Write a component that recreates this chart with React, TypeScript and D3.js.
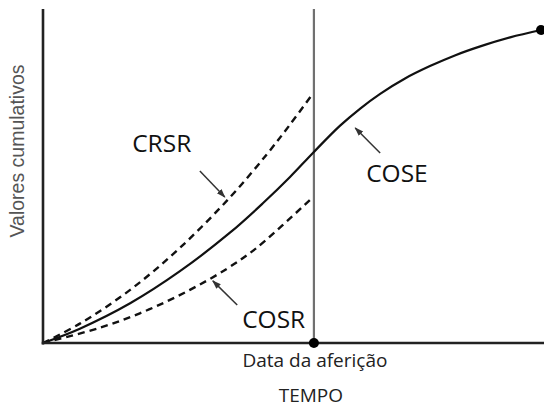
import React from "react";
import * as d3 from "d3";

// Time axis (0..100, arbitrary units) and cumulative values (0..100)
const measurementTime = 54.4;

const timeCOSE = [0, 7.4, 17.5, 27.5, 37.6, 44.2, 49.6, 54.2, 59.6, 63.7, 67.7, 72.7, 77.7, 82.7, 87.8, 93.8, 100];
const valueCOSE = [0, 4.3, 11.9, 21.5, 33.1, 41.9, 49.7, 56.9, 65.0, 70.2, 74.6, 79.2, 82.9, 86.1, 88.8, 91.5, 93.7];

const timeCRSR = [0, 7.4, 17.5, 27.5, 37.6, 45.0, 49.6, 54.0];
const valueCRSR = [0, 5.8, 15.9, 28.5, 43.7, 56.6, 65.4, 74.3];

const timeCOSR = [0, 11.5, 20.9, 29.5, 37.0, 43.0, 54.0];
const valueCOSR = [0, 4.6, 9.8, 15.9, 22.3, 28.6, 43.4];

const labelNames = ["CRSR", "COSE", "COSR"];
const labelX = [17.9, 64.9, 40.0];
const labelY = [57.2, 48.2, 4.5];
const arrowFromX = [31.5, 67.7, 39.0];
const arrowFromY = [51.5, 56.9, 11.4];
const arrowToX = [36.5, 62.7, 34.1];
const arrowToY = [43.7, 64.4, 18.6];

const yTitle = "Valores cumulativos";
const xTickLabel = "Data da aferição";
const xTitle = "TEMPO";

const W = 544;
const H = 407;
const x = d3.scaleLinear().domain([0, 100]).range([43, 541]);
const y = d3.scaleLinear().domain([0, 100]).range([343, 9]);

const toPts = (xs: number[], ys: number[]) => xs.map((t, i) => [t, ys[i]] as [number, number]);

const line = d3
  .line<[number, number]>()
  .x((d) => x(d[0]))
  .y((d) => y(d[1]))
  .curve(d3.curveCatmullRom.alpha(0.5));

const labelFont = "'Open Sans', 'Noto Sans', sans-serif";

export default function App() {
  const lastCOSE = timeCOSE.length - 1;
  return (
    <svg
      width={W}
      height={H}
      viewBox={`0 0 ${W} ${H}`}
      style={{ position: "absolute", left: 0, top: 0, background: "#fff" }}
    >
      <defs>
        <marker
          id="arrowhead"
          viewBox="0 0 10 10"
          refX="9"
          refY="5"
          markerWidth="9"
          markerHeight="9"
          markerUnits="userSpaceOnUse"
          orient="auto"
        >
          <path d="M0,1.5 L10,5 L0,8.5 Z" fill="#333" />
        </marker>
      </defs>

      {/* measurement date vertical line */}
      <line
        x1={x(measurementTime)}
        x2={x(measurementTime)}
        y1={y(100)}
        y2={y(0)}
        stroke="#707070"
        strokeWidth={2.2}
      />

      {/* curves */}
      <path
        d={line(toPts(timeCRSR, valueCRSR)) || ""}
        fill="none"
        stroke="#111"
        strokeWidth={2.4}
        strokeDasharray="7 5"
      />
      <path
        d={line(toPts(timeCOSR, valueCOSR)) || ""}
        fill="none"
        stroke="#111"
        strokeWidth={2.4}
        strokeDasharray="7 5"
      />
      <path
        d={line(toPts(timeCOSE, valueCOSE)) || ""}
        fill="none"
        stroke="#111"
        strokeWidth={2.2}
      />

      {/* axes */}
      <line x1={x(0)} x2={x(0)} y1={y(100)} y2={y(0) + 1.5} stroke="#222" strokeWidth={2.6} />
      <line x1={x(0) - 1.3} x2={W} y1={y(0)} y2={y(0)} stroke="#222" strokeWidth={2.6} />

      {/* dots */}
      <circle cx={x(measurementTime)} cy={y(0)} r={5} fill="#000" />
      <circle cx={x(timeCOSE[lastCOSE])} cy={y(valueCOSE[lastCOSE])} r={5} fill="#000" />

      {/* annotations */}
      {labelNames.map((name, i) => (
        <g key={name}>
          <line
            x1={x(arrowFromX[i])}
            y1={y(arrowFromY[i])}
            x2={x(arrowToX[i])}
            y2={y(arrowToY[i])}
            stroke="#333"
            strokeWidth={1.5}
            markerEnd="url(#arrowhead)"
          />
          <text
            x={x(labelX[i])}
            y={y(labelY[i])}
            fontFamily={labelFont}
            fontSize={24.5}
            fill="#111"
          >
            {name}
          </text>
        </g>
      ))}

      {/* axis labels */}
      <text
        x={x(measurementTime) + 1}
        y={367}
        textAnchor="middle"
        fontFamily={labelFont}
        fontSize={19}
        fill="#222"
      >
        {xTickLabel}
      </text>
      <text
        x={x(measurementTime) - 3}
        y={402}
        textAnchor="middle"
        fontFamily={labelFont}
        fontSize={19}
        fill="#222"
      >
        {xTitle}
      </text>
      <text
        transform="translate(24,151) rotate(-90)"
        textAnchor="middle"
        fontFamily="'Liberation Sans', Arial, sans-serif"
        fontSize={19.5}
        fill="#555"
      >
        {yTitle}
      </text>
    </svg>
  );
}
